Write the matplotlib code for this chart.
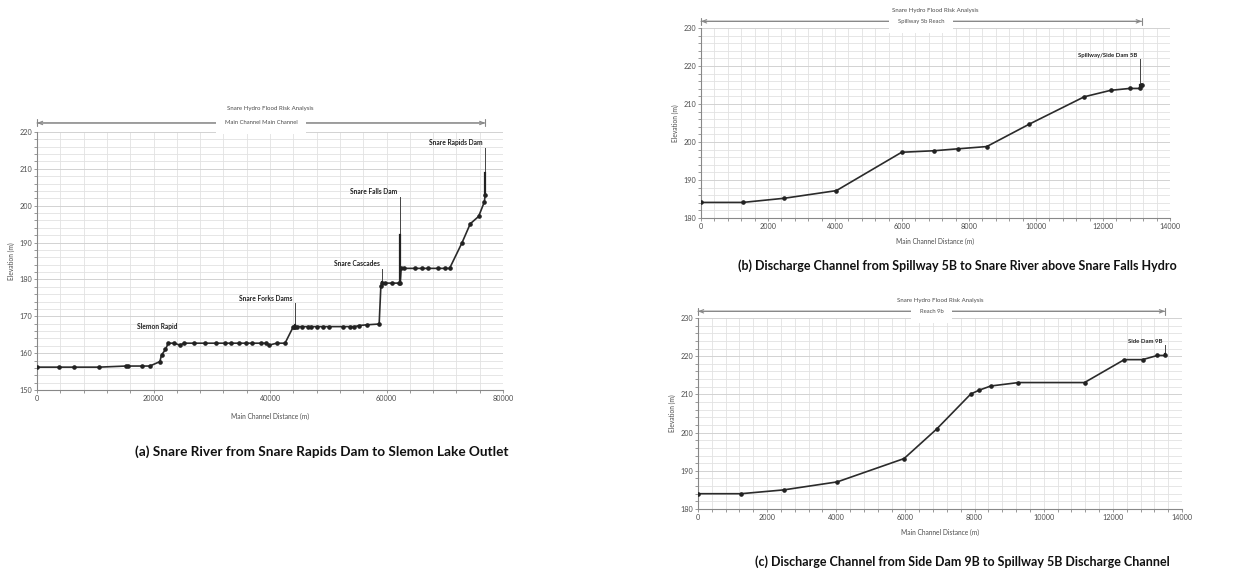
import numpy as np
import matplotlib
matplotlib.use('Agg')
import matplotlib.pyplot as plt
from matplotlib.ticker import MultipleLocator

# (a) Snare River main channel profile
a_dist = [0, 3780, 6420, 10660, 15240, 15640, 18100, 19370, 21090, 21380, 22060, 22520,
          23500, 24530, 25270, 26930, 28820, 30720, 32320, 33240, 34730, 35870, 36960,
          38400, 39260, 39890, 41150, 42580, 44010, 44150, 44300, 44600, 45450, 46590,
          47050, 48020, 49050, 50140, 52490, 53750, 54500, 55360, 56730, 58740, 59030,
          59310, 59770, 60920, 62070, 62350, 62520, 63040, 64930, 66080, 67050, 68770,
          70090, 70830, 72950, 74380, 75820, 76790, 76960]
a_elev = [156.2, 156.2, 156.2, 156.2, 156.5, 156.5, 156.5, 156.5, 157.7, 159.5, 161.0, 162.7,
          162.7, 162.2, 162.7, 162.7, 162.7, 162.7, 162.7, 162.7, 162.7, 162.7, 162.7,
          162.7, 162.7, 162.2, 162.7, 162.7, 167.2, 167.2, 167.2, 167.2, 167.2, 167.2,
          167.2, 167.2, 167.2, 167.2, 167.2, 167.2, 167.2, 167.5, 167.7, 167.9, 178.1,
          179.0, 179.0, 179.0, 179.0, 179.0, 183.0, 183.0, 183.0, 183.0, 183.0, 183.0,
          183.0, 183.0, 189.9, 195.1, 197.1, 201.0, 203.0]
a_dams = ['Snare Forks Dams', 'Snare Cascades', 'Snare Falls Dam', 'Snare Rapids Dam']
a_dam_x = [44300, 59310, 62350, 76960]
a_dam_top = [173.5, 182.9, 202.4, 215.7]
a_dam_crest = [167.6, 179.4, 192.0, 209.0]

# (b) Spillway 5b reach
b_dist = [0, 1250, 2490, 4040, 5990, 6960, 7660, 8530, 9800, 11440, 12230, 12800, 13100, 13120, 13160]
b_elev = [184.1, 184.1, 185.2, 187.2, 197.3, 197.7, 198.2, 198.8, 204.7, 211.9, 213.6, 214.1,
          214.1, 214.9, 214.9]
b_dams = ['Spillway/Side Dam 5B']
b_dam_x = [13100]
b_dam_top = [221.8]
b_dam_crest = [214.9]

# (c) Reach 9b
c_dist = [0, 1240, 2480, 4030, 5960, 6900, 7890, 8130, 8470, 9270, 11180, 12330, 12860, 13290, 13510]
c_elev = [184.0, 184.0, 185.0, 187.1, 193.2, 200.9, 210.1, 211.1, 212.2, 213.1, 213.1, 219.1,
          219.1, 220.2, 220.2]
c_dams = ['Side Dam 9B']
c_dam_x = [13510]
c_dam_top = [222.9]
c_dam_crest = [220.6]

W, H = 1258, 573
fig = plt.figure(figsize=(W / 100, H / 100), dpi=100)
fig.patch.set_facecolor('white')

narrow = ['Lato', 'DejaVu Sans']
gray_txt = '#4d4d4d'


def box(l, t, r, b):
    return [l / W, 1 - b / H, (r - l) / W, (b - t) / H]


def profile(ax, dist, elev, xmax, xmaj, xmin, ylo, yhi, reach, dams, dam_x, dam_top,
            dam_crest, xlab_pad, dam_fs):
    ax.set_xlim(0, xmax)
    ax.set_ylim(ylo, yhi)
    ax.xaxis.set_major_locator(MultipleLocator(xmaj))
    ax.xaxis.set_minor_locator(MultipleLocator(xmin))
    ax.yaxis.set_major_locator(MultipleLocator(10))
    ax.yaxis.set_minor_locator(MultipleLocator(2))
    ax.grid(True, which='both', color='#e2e2e2', lw=0.6)
    ax.grid(True, which='major', axis='y', color='#d2d2d2', lw=0.7)
    ax.set_axisbelow(True)
    for s in ['top', 'right']:
        ax.spines[s].set_visible(False)
    for s in ['left', 'bottom']:
        ax.spines[s].set_color('#888888')
        ax.spines[s].set_linewidth(0.8)
    ax.tick_params(which='both', colors='#888888', labelcolor=gray_txt, labelsize=5.2,
                   length=2, width=0.6, pad=1.5)
    for lab in ax.get_xticklabels() + ax.get_yticklabels():
        lab.set_family(narrow)
    ax.set_xlabel('Main Channel Distance (m)', fontsize=4.8, color=gray_txt,
                  labelpad=xlab_pad, family=narrow)
    ax.set_ylabel('Elevation (m)', fontsize=4.8, color=gray_txt, labelpad=3, family=narrow)

    ax.plot(dist, elev, color='#2b2b2b', lw=1.2, marker='o', ms=2.3, mfc='#222222',
            mec='#222222', zorder=3)

    for name, x, top, crest in zip(dams, dam_x, dam_top, dam_crest):
        base = np.interp(x, dist, elev)
        ax.plot([x, x], [base, top], color='#444444', lw=0.7, zorder=3)
        ax.plot([x, x], [base, crest], color='#222222', lw=1.6, zorder=3)
        ax.annotate(name, xy=(x, top), xytext=(-2, 1), textcoords='offset points',
                    ha='right', va='bottom', fontsize=dam_fs, family=narrow,
                    fontweight='bold', color='#222222')

    # reach extent bar with centered label
    end = dist[-1]
    yb = 1.035
    ax.annotate('', xy=(0, yb), xycoords=('data', 'axes fraction'),
                xytext=(end, yb), textcoords=('data', 'axes fraction'),
                arrowprops=dict(arrowstyle='|-|, widthA=0.25, widthB=0.25',
                                color='#888888', lw=0.8, shrinkA=0, shrinkB=0),
                annotation_clip=False)
    ax.annotate('', xy=(0, yb), xycoords=('data', 'axes fraction'),
                xytext=(end, yb), textcoords=('data', 'axes fraction'),
                arrowprops=dict(arrowstyle='<->, head_length=0.3, head_width=0.12',
                                color='#888888', lw=0.8, shrinkA=0, shrinkB=0),
                annotation_clip=False)
    ax.text(end / 2 / xmax, yb, reach, transform=ax.transAxes, ha='center', va='center',
            fontsize=4.2, color=gray_txt, family=narrow,
            bbox=dict(boxstyle='square,pad=1.5', fc='white', ec='none'))
    ax.text(0.5, yb + 0.055, 'Snare Hydro Flood Risk Analysis', transform=ax.transAxes,
            ha='center', va='center', fontsize=4.4, color=gray_txt, family=narrow)


ax_a = fig.add_axes(box(37, 132, 503, 390))
profile(ax_a, a_dist, a_elev, 80000, 20000, 4000, 150, 220, 'Main Channel Main Channel',
        a_dams, a_dam_x, a_dam_top, a_dam_crest, 8, 4.8)
ax_a.text(20700, 166.2, 'Slemon Rapid', ha='center', va='bottom', fontsize=4.8,
          family=narrow, fontweight='bold', color='#222222')

ax_b = fig.add_axes(box(701, 28, 1170, 218))
profile(ax_b, b_dist, b_elev, 14000, 2000, 400, 180, 230, 'Spillway 5b Reach',
        b_dams, b_dam_x, b_dam_top, b_dam_crest, 6, 4.3)

ax_c = fig.add_axes(box(698, 318, 1182, 509))
profile(ax_c, c_dist, c_elev, 14000, 2000, 400, 180, 230, 'Reach 9b',
        c_dams, c_dam_x, c_dam_top, c_dam_crest, 6, 4.3)

# captions
cap = dict(ha='center', va='center', fontweight='bold', family=narrow, color='#111111')
fig.text(322 / W, 1 - 452 / H, '(a) Snare River from Snare Rapids Dam to Slemon Lake Outlet',
         fontsize=9.8, **cap)
fig.text(957 / W, 1 - 266 / H, '(b) Discharge Channel from Spillway 5B to Snare River above Snare Falls Hydro',
         fontsize=9, **cap)
fig.text(962 / W, 1 - 562 / H, '(c) Discharge Channel from Side Dam 9B to Spillway 5B Discharge Channel',
         fontsize=9, **cap)

fig.savefig('out.png', dpi=100, facecolor='white')
